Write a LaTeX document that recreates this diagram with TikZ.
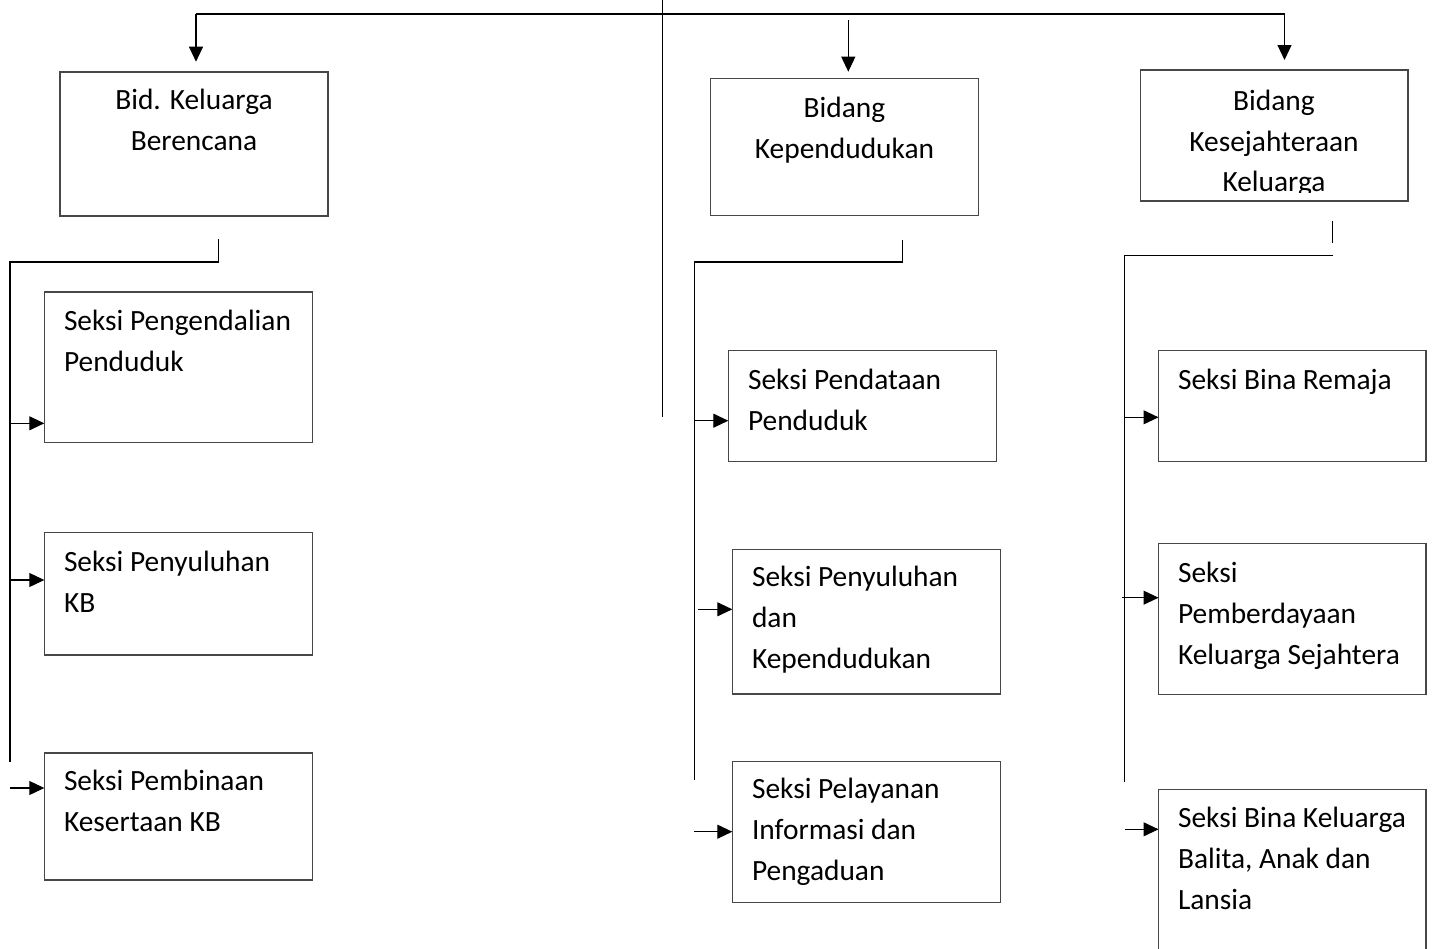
\documentclass[tikz,border=0pt]{standalone}
\usepackage{fontspec}
\setmainfont{Carlito}
\usetikzlibrary{arrows.meta}
\tikzset{
  box/.style={draw=black!72, line width=1.1pt, inner sep=0pt, outer sep=0pt, anchor=north west},
  lbl/.style={inner sep=0pt, outer sep=0pt, font=\fontsize{29.4}{41}\selectfont},
  lline/.style={lbl, anchor=base west},
  cline/.style={lbl, anchor=base},
  wire/.style={line width=1.05pt, draw=black},
  arr/.style={wire, -{Triangle[length=15pt,width=14pt]}},
}
\begin{document}
\begin{tikzpicture}[x=1pt,y=-1pt]
\useasboundingbox (0,0) rectangle (1432,948);
\clip (0,0) rectangle (1432,948);

% ---------- boxes ----------
\node[box, minimum width=268pt, minimum height=144pt] (bkb) at (60,72) {};
\node[box, minimum width=268.5pt, minimum height=137.5pt] (bkp) at (710.2,78.3) {};
\node[box, minimum width=267.5pt, minimum height=131pt] (bks) at (1140.5,70) {};

\node[box, minimum width=268pt, minimum height=150.5pt] (s1) at (44.3,292) {};
\node[box, minimum width=268pt, minimum height=122.5pt] (s2) at (44.3,532.5) {};
\node[box, minimum width=268pt, minimum height=127pt] (s3) at (44.3,753) {};

\node[box, minimum width=268.4pt, minimum height=111pt] (m1) at (728.3,350.7) {};
\node[box, minimum width=268.4pt, minimum height=144.7pt] (m2) at (732.3,549.3) {};
\node[box, minimum width=268.4pt, minimum height=141pt] (m3) at (732.3,761.7) {};

\node[box, minimum width=267.5pt, minimum height=111pt] (r1) at (1158.5,350.7) {};
\node[box, minimum width=267.5pt, minimum height=150.6pt] (r2) at (1158.5,543.7) {};
\node[box, minimum width=267.5pt, minimum height=200pt] (r3) at (1158.5,789.3) {};

% ---------- texts ----------
\node[cline] (bkb1) at (194,109.5) {Bid. Keluarga};
\node[cline] (bkb2) at (194,150.5) {Berencana};

\node[cline] (bkp1) at (844.5,117) {Bidang};
\node[cline] (bkp2) at (844.5,158) {Kependudukan};

\node[cline] (bks1) at (1274,110) {Bidang};
\node[cline] (bks2) at (1274,151) {Kesejahteraan};
\begin{scope}
  \clip (1141,150) rectangle (1407,192);
  \node[cline] (bks3) at (1274,191.5) {Keluarga};
\end{scope}

\node[lline] (s1a) at (64,330) {Seksi Pengendalian};
\node[lline] (s1b) at (64,371) {Penduduk};
\node[lline] (s2a) at (64,571) {Seksi Penyuluhan};
\node[lline] (s2b) at (64,612) {KB};
\node[lline] (s3a) at (64,790) {Seksi Pembinaan};
\node[lline] (s3b) at (64,831) {Kesertaan KB};

\node[lline] (m1a) at (748,389) {Seksi Pendataan};
\node[lline] (m1b) at (748,430) {Penduduk};
\node[lline] (m2a) at (752,586) {Seksi Penyuluhan};
\node[lline] (m2b) at (752,627) {dan};
\node[lline] (m2c) at (752,668) {Kependudukan};
\node[lline] (m3a) at (752,798) {Seksi Pelayanan};
\node[lline] (m3b) at (752,839) {Informasi dan};
\node[lline] (m3c) at (752,880) {Pengaduan};

\node[lline] (r1a) at (1178,389) {Seksi Bina Remaja};
\node[lline] (r2a) at (1178,582) {Seksi};
\node[lline] (r2b) at (1178,623) {Pemberdayaan};
\node[lline] (r2c) at (1178,664) {Keluarga Sejahtera};
\node[lline] (r3a) at (1178,827) {Seksi Bina Keluarga};
\node[lline] (r3b) at (1178,868) {Balita, Anak dan};
\node[lline] (r3c) at (1178,909) {Lansia};

% ---------- top connectors ----------
\coordinate (tl) at (196,14);
\coordinate (tr) at (1284.5,14);
\coordinate (vt) at (662.3,0);
\coordinate (vb) at (662.3,416.7);
\draw[wire] (tl) -- (tr);
\draw[wire] (vt) -- (vb);
\coordinate (ta1) at (196,61.7);
\draw[arr] (tl) -- (ta1);
\coordinate (tm0) at (848.3,20);
\coordinate (tm1) at (848.3,71.7);
\draw[arr] (tm0) -- (tm1);
\coordinate (tr1) at (1284.5,60);
\draw[arr] (tr) -- (tr1);

% ---------- left column ----------
\coordinate (lk0) at (218.3,239);
\coordinate (lk1) at (218.3,262);
\coordinate (lh) at (10,262);
\coordinate (lv) at (10,762);
\draw[wire] (lk0) -- (lk1) -- (lh) -- (lv);
\coordinate (la1) at (10,423.3);
\coordinate (la2) at (10,580);
\coordinate (la3) at (10,788);
\draw[arr] (la1) -- (la1 -| s1.west);
\draw[arr] (la2) -- (la2 -| s2.west);
\draw[arr] (la3) -- (la3 -| s3.west);

% ---------- middle column ----------
\coordinate (mk0) at (902.7,240);
\coordinate (mk1) at (902.7,262);
\coordinate (mh) at (694.3,262);
\coordinate (mv) at (694.3,780);
\draw[wire] (mk0) -- (mk1) -- (mh) -- (mv);
\coordinate (ma1) at (694.3,420.7);
\coordinate (ma2) at (698.3,609.3);
\coordinate (ma3) at (694,831.7);
\draw[arr] (ma1) -- (ma1 -| m1.west);
\draw[arr] (ma2) -- (ma2 -| m2.west);
\draw[arr] (ma3) -- (ma3 -| m3.west);

% ---------- right column ----------
\coordinate (rk0) at (1332.7,221);
\coordinate (rk1) at (1332.7,243);
\draw[wire] (rk0) -- (rk1);
\coordinate (rh0) at (1333.3,255.7);
\coordinate (rh1) at (1124.3,255.7);
\coordinate (rv) at (1124.3,781.7);
\draw[wire] (rh0) -- (rh1) -- (rv);
\coordinate (ra1) at (1124.3,417.3);
\coordinate (ra2) at (1122,597.7);
\coordinate (ra3) at (1125,829.3);
\draw[arr] (ra1) -- (ra1 -| r1.west);
\draw[arr] (ra2) -- (ra2 -| r2.west);
\draw[arr] (ra3) -- (ra3 -| r3.west);
\end{tikzpicture}
\end{document}
